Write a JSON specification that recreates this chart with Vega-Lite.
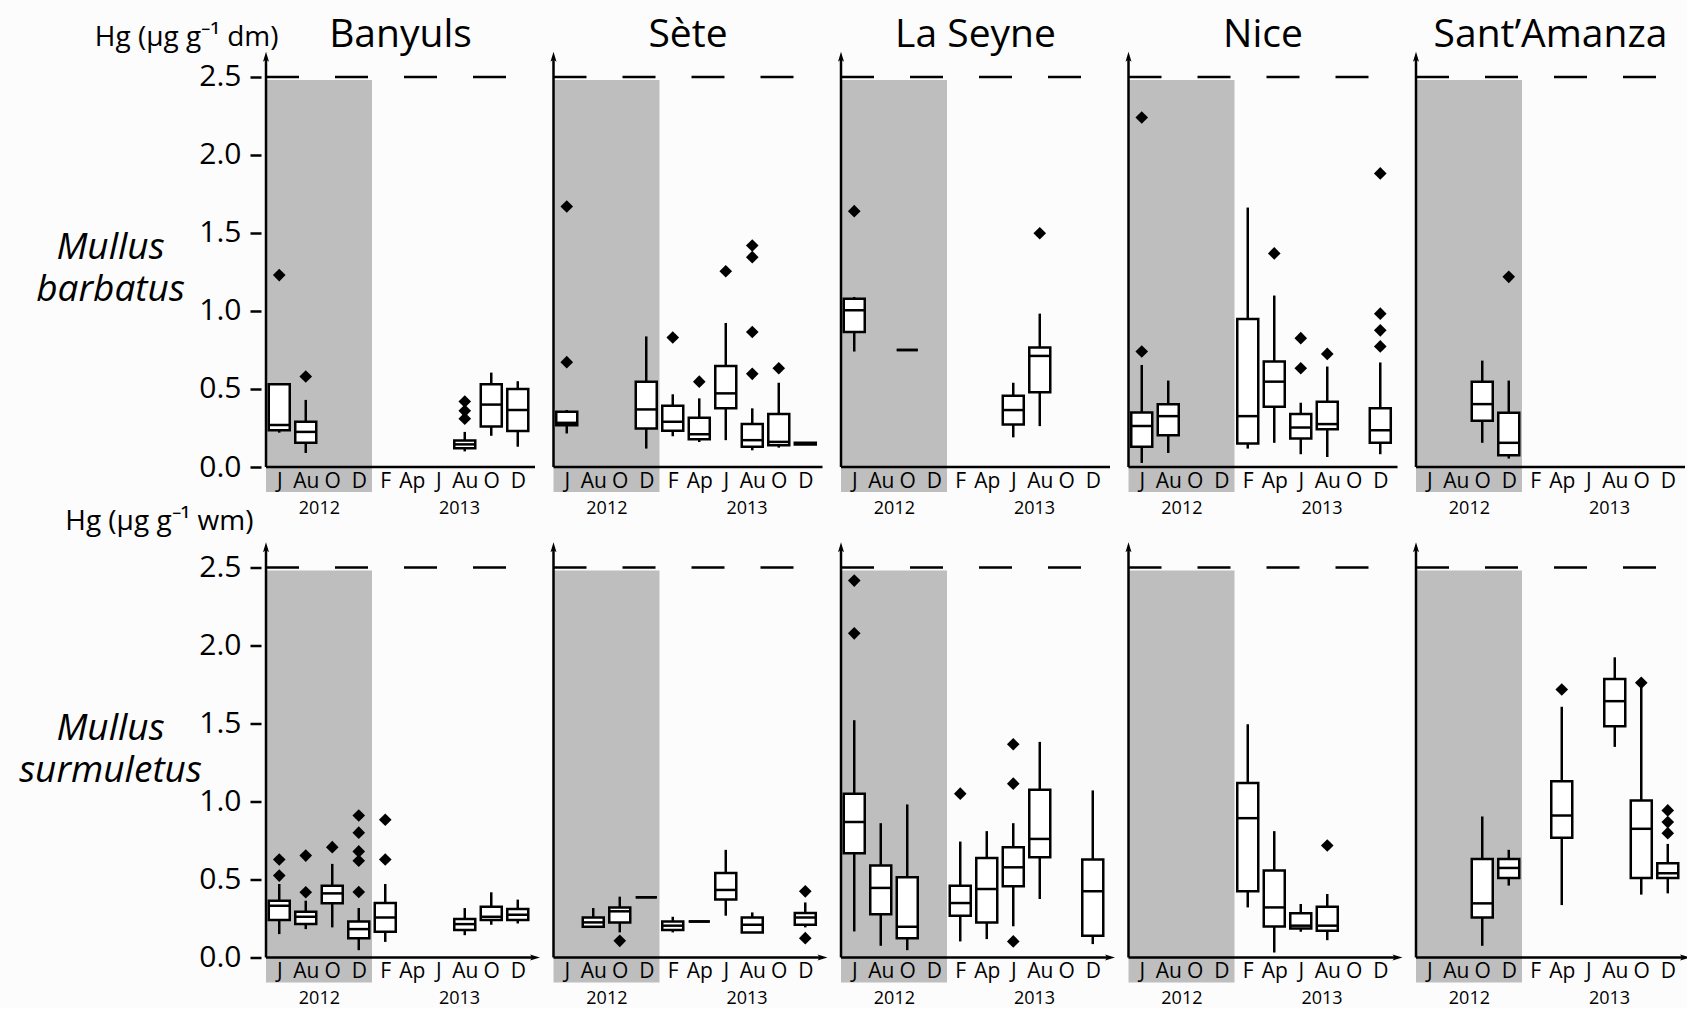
{
  "$schema": "https://vega.github.io/schema/vega-lite/v6.json",
  "background": "#fcfcfc",
  "padding": {"left": 18, "top": 16, "right": 0, "bottom": 0},
  "spacing": -9.5,
  "config": {"view": {"stroke": null}, "font": "Open Sans"},
  "datasets": {
    "d": [
      {"site": "Banyuls", "sp": "barbatus", "kind": "frame"},
      {"site": "Sète", "sp": "barbatus", "kind": "frame"},
      {"site": "La Seyne", "sp": "barbatus", "kind": "frame"},
      {"site": "Nice", "sp": "barbatus", "kind": "frame"},
      {"site": "Sant’Amanza", "sp": "barbatus", "kind": "frame"},
      {"site": "Banyuls", "sp": "surmuletus", "kind": "frame"},
      {"site": "Sète", "sp": "surmuletus", "kind": "frame"},
      {"site": "La Seyne", "sp": "surmuletus", "kind": "frame"},
      {"site": "Nice", "sp": "surmuletus", "kind": "frame"},
      {"site": "Sant’Amanza", "sp": "surmuletus", "kind": "frame"},

      {"site": "Banyuls", "sp": "barbatus", "kind": "box", "m": 0, "lo": 0.22, "q1": 0.236, "med": 0.27, "q3": 0.53, "hi": 0.53},
      {"site": "Banyuls", "sp": "barbatus", "kind": "box", "m": 1, "lo": 0.09, "q1": 0.155, "med": 0.225, "q3": 0.29, "hi": 0.43},
      {"site": "Banyuls", "sp": "barbatus", "kind": "box", "m": 7, "lo": 0.10, "q1": 0.12, "med": 0.145, "q3": 0.17, "hi": 0.225},
      {"site": "Banyuls", "sp": "barbatus", "kind": "box", "m": 8, "lo": 0.20, "q1": 0.26, "med": 0.40, "q3": 0.53, "hi": 0.605},
      {"site": "Banyuls", "sp": "barbatus", "kind": "box", "m": 9, "lo": 0.13, "q1": 0.23, "med": 0.365, "q3": 0.50, "hi": 0.55},
      {"site": "Banyuls", "sp": "barbatus", "kind": "out", "m": 0, "v": 1.23},
      {"site": "Banyuls", "sp": "barbatus", "kind": "out", "m": 1, "v": 0.58},
      {"site": "Banyuls", "sp": "barbatus", "kind": "out", "m": 7, "v": 0.42},
      {"site": "Banyuls", "sp": "barbatus", "kind": "out", "m": 7, "v": 0.36},
      {"site": "Banyuls", "sp": "barbatus", "kind": "out", "m": 7, "v": 0.31},

      {"site": "Sète", "sp": "barbatus", "kind": "box", "m": 0, "lo": 0.215, "q1": 0.268, "med": 0.283, "q3": 0.354, "hi": 0.365},
      {"site": "Sète", "sp": "barbatus", "kind": "box", "m": 3, "lo": 0.118, "q1": 0.247, "med": 0.369, "q3": 0.547, "hi": 0.837},
      {"site": "Sète", "sp": "barbatus", "kind": "box", "m": 4, "lo": 0.197, "q1": 0.232, "med": 0.29, "q3": 0.393, "hi": 0.466},
      {"site": "Sète", "sp": "barbatus", "kind": "box", "m": 5, "lo": 0.16, "q1": 0.178, "med": 0.21, "q3": 0.315, "hi": 0.44},
      {"site": "Sète", "sp": "barbatus", "kind": "box", "m": 6, "lo": 0.172, "q1": 0.376, "med": 0.472, "q3": 0.648, "hi": 0.923},
      {"site": "Sète", "sp": "barbatus", "kind": "box", "m": 7, "lo": 0.107, "q1": 0.129, "med": 0.172, "q3": 0.275, "hi": 0.376},
      {"site": "Sète", "sp": "barbatus", "kind": "box", "m": 8, "lo": 0.124, "q1": 0.139, "med": 0.161, "q3": 0.339, "hi": 0.54},
      {"site": "Sète", "sp": "barbatus", "kind": "box", "m": 9, "lo": 0.145, "q1": 0.145, "med": 0.15, "q3": 0.155, "hi": 0.155},
      {"site": "Sète", "sp": "barbatus", "kind": "out", "m": 0, "v": 1.67},
      {"site": "Sète", "sp": "barbatus", "kind": "out", "m": 0, "v": 0.672},
      {"site": "Sète", "sp": "barbatus", "kind": "out", "m": 4, "v": 0.83},
      {"site": "Sète", "sp": "barbatus", "kind": "out", "m": 5, "v": 0.547},
      {"site": "Sète", "sp": "barbatus", "kind": "out", "m": 6, "v": 1.255},
      {"site": "Sète", "sp": "barbatus", "kind": "out", "m": 7, "v": 1.42},
      {"site": "Sète", "sp": "barbatus", "kind": "out", "m": 7, "v": 1.345},
      {"site": "Sète", "sp": "barbatus", "kind": "out", "m": 7, "v": 0.865},
      {"site": "Sète", "sp": "barbatus", "kind": "out", "m": 7, "v": 0.597},
      {"site": "Sète", "sp": "barbatus", "kind": "out", "m": 8, "v": 0.633},

      {"site": "La Seyne", "sp": "barbatus", "kind": "box", "m": 0, "lo": 0.74, "q1": 0.865, "med": 1.004, "q3": 1.079, "hi": 1.09},
      {"site": "La Seyne", "sp": "barbatus", "kind": "box", "m": 2, "lo": 0.75, "q1": 0.75, "med": 0.75, "q3": 0.75, "hi": 0.75},
      {"site": "La Seyne", "sp": "barbatus", "kind": "box", "m": 6, "lo": 0.19, "q1": 0.273, "med": 0.365, "q3": 0.457, "hi": 0.54},
      {"site": "La Seyne", "sp": "barbatus", "kind": "box", "m": 7, "lo": 0.262, "q1": 0.479, "med": 0.712, "q3": 0.766, "hi": 0.983},
      {"site": "La Seyne", "sp": "barbatus", "kind": "out", "m": 0, "v": 1.64},
      {"site": "La Seyne", "sp": "barbatus", "kind": "out", "m": 7, "v": 1.498},

      {"site": "Nice", "sp": "barbatus", "kind": "box", "m": 0, "lo": 0.026, "q1": 0.129, "med": 0.262, "q3": 0.35, "hi": 0.654},
      {"site": "Nice", "sp": "barbatus", "kind": "box", "m": 1, "lo": 0.09, "q1": 0.204, "med": 0.326, "q3": 0.403, "hi": 0.554},
      {"site": "Nice", "sp": "barbatus", "kind": "box", "m": 4, "lo": 0.118, "q1": 0.15, "med": 0.326, "q3": 0.948, "hi": 1.663},
      {"site": "Nice", "sp": "barbatus", "kind": "box", "m": 5, "lo": 0.155, "q1": 0.386, "med": 0.547, "q3": 0.676, "hi": 1.099},
      {"site": "Nice", "sp": "barbatus", "kind": "box", "m": 6, "lo": 0.082, "q1": 0.182, "med": 0.253, "q3": 0.339, "hi": 0.412},
      {"site": "Nice", "sp": "barbatus", "kind": "box", "m": 7, "lo": 0.064, "q1": 0.242, "med": 0.275, "q3": 0.418, "hi": 0.644},
      {"site": "Nice", "sp": "barbatus", "kind": "box", "m": 9, "lo": 0.082, "q1": 0.155, "med": 0.236, "q3": 0.376, "hi": 0.67},
      {"site": "Nice", "sp": "barbatus", "kind": "out", "m": 0, "v": 2.24},
      {"site": "Nice", "sp": "barbatus", "kind": "out", "m": 0, "v": 0.74},
      {"site": "Nice", "sp": "barbatus", "kind": "out", "m": 5, "v": 1.369},
      {"site": "Nice", "sp": "barbatus", "kind": "out", "m": 6, "v": 0.826},
      {"site": "Nice", "sp": "barbatus", "kind": "out", "m": 6, "v": 0.633},
      {"site": "Nice", "sp": "barbatus", "kind": "out", "m": 7, "v": 0.725},
      {"site": "Nice", "sp": "barbatus", "kind": "out", "m": 9, "v": 1.882},
      {"site": "Nice", "sp": "barbatus", "kind": "out", "m": 9, "v": 0.983},
      {"site": "Nice", "sp": "barbatus", "kind": "out", "m": 9, "v": 0.876},
      {"site": "Nice", "sp": "barbatus", "kind": "out", "m": 9, "v": 0.773},

      {"site": "Sant’Amanza", "sp": "barbatus", "kind": "box", "m": 2, "lo": 0.155, "q1": 0.296, "med": 0.403, "q3": 0.547, "hi": 0.682},
      {"site": "Sant’Amanza", "sp": "barbatus", "kind": "box", "m": 3, "lo": 0.054, "q1": 0.075, "med": 0.155, "q3": 0.348, "hi": 0.554},
      {"site": "Sant’Amanza", "sp": "barbatus", "kind": "out", "m": 3, "v": 1.219},

      {"site": "Banyuls", "sp": "surmuletus", "kind": "box", "m": 0, "lo": 0.15, "q1": 0.24, "med": 0.332, "q3": 0.364, "hi": 0.471},
      {"site": "Banyuls", "sp": "surmuletus", "kind": "box", "m": 1, "lo": 0.182, "q1": 0.214, "med": 0.261, "q3": 0.293, "hi": 0.364},
      {"site": "Banyuls", "sp": "surmuletus", "kind": "box", "m": 2, "lo": 0.193, "q1": 0.347, "med": 0.411, "q3": 0.46, "hi": 0.6},
      {"site": "Banyuls", "sp": "surmuletus", "kind": "box", "m": 3, "lo": 0.047, "q1": 0.124, "med": 0.182, "q3": 0.231, "hi": 0.317},
      {"site": "Banyuls", "sp": "surmuletus", "kind": "box", "m": 4, "lo": 0.10, "q1": 0.165, "med": 0.257, "q3": 0.349, "hi": 0.471},
      {"site": "Banyuls", "sp": "surmuletus", "kind": "box", "m": 7, "lo": 0.143, "q1": 0.176, "med": 0.214, "q3": 0.246, "hi": 0.317},
      {"site": "Banyuls", "sp": "surmuletus", "kind": "box", "m": 8, "lo": 0.21, "q1": 0.24, "med": 0.261, "q3": 0.326, "hi": 0.418},
      {"site": "Banyuls", "sp": "surmuletus", "kind": "box", "m": 9, "lo": 0.218, "q1": 0.24, "med": 0.274, "q3": 0.311, "hi": 0.371},
      {"site": "Banyuls", "sp": "surmuletus", "kind": "out", "m": 0, "v": 0.628},
      {"site": "Banyuls", "sp": "surmuletus", "kind": "out", "m": 0, "v": 0.525},
      {"site": "Banyuls", "sp": "surmuletus", "kind": "out", "m": 1, "v": 0.653},
      {"site": "Banyuls", "sp": "surmuletus", "kind": "out", "m": 1, "v": 0.418},
      {"site": "Banyuls", "sp": "surmuletus", "kind": "out", "m": 2, "v": 0.707},
      {"site": "Banyuls", "sp": "surmuletus", "kind": "out", "m": 3, "v": 0.91},
      {"site": "Banyuls", "sp": "surmuletus", "kind": "out", "m": 3, "v": 0.80},
      {"site": "Banyuls", "sp": "surmuletus", "kind": "out", "m": 3, "v": 0.68},
      {"site": "Banyuls", "sp": "surmuletus", "kind": "out", "m": 3, "v": 0.62},
      {"site": "Banyuls", "sp": "surmuletus", "kind": "out", "m": 3, "v": 0.42},
      {"site": "Banyuls", "sp": "surmuletus", "kind": "out", "m": 4, "v": 0.883},
      {"site": "Banyuls", "sp": "surmuletus", "kind": "out", "m": 4, "v": 0.628},

      {"site": "Sète", "sp": "surmuletus", "kind": "box", "m": 1, "lo": 0.193, "q1": 0.197, "med": 0.225, "q3": 0.257, "hi": 0.317},
      {"site": "Sète", "sp": "surmuletus", "kind": "box", "m": 2, "lo": 0.161, "q1": 0.225, "med": 0.296, "q3": 0.321, "hi": 0.39},
      {"site": "Sète", "sp": "surmuletus", "kind": "box", "m": 3, "lo": 0.386, "q1": 0.386, "med": 0.386, "q3": 0.386, "hi": 0.386},
      {"site": "Sète", "sp": "surmuletus", "kind": "box", "m": 4, "lo": 0.161, "q1": 0.176, "med": 0.204, "q3": 0.231, "hi": 0.261},
      {"site": "Sète", "sp": "surmuletus", "kind": "box", "m": 5, "lo": 0.231, "q1": 0.231, "med": 0.231, "q3": 0.231, "hi": 0.231},
      {"site": "Sète", "sp": "surmuletus", "kind": "box", "m": 6, "lo": 0.268, "q1": 0.371, "med": 0.433, "q3": 0.542, "hi": 0.69},
      {"site": "Sète", "sp": "surmuletus", "kind": "box", "m": 7, "lo": 0.161, "q1": 0.161, "med": 0.21, "q3": 0.257, "hi": 0.289},
      {"site": "Sète", "sp": "surmuletus", "kind": "box", "m": 9, "lo": 0.193, "q1": 0.21, "med": 0.257, "q3": 0.285, "hi": 0.353},
      {"site": "Sète", "sp": "surmuletus", "kind": "out", "m": 2, "v": 0.107},
      {"site": "Sète", "sp": "surmuletus", "kind": "out", "m": 9, "v": 0.424},
      {"site": "Sète", "sp": "surmuletus", "kind": "out", "m": 9, "v": 0.124},

      {"site": "La Seyne", "sp": "surmuletus", "kind": "box", "m": 0, "lo": 0.167, "q1": 0.668, "med": 0.868, "q3": 1.05, "hi": 1.521},
      {"site": "La Seyne", "sp": "surmuletus", "kind": "box", "m": 1, "lo": 0.075, "q1": 0.278, "med": 0.446, "q3": 0.589, "hi": 0.861},
      {"site": "La Seyne", "sp": "surmuletus", "kind": "box", "m": 2, "lo": 0.047, "q1": 0.124, "med": 0.197, "q3": 0.514, "hi": 0.981},
      {"site": "La Seyne", "sp": "surmuletus", "kind": "box", "m": 4, "lo": 0.103, "q1": 0.268, "med": 0.349, "q3": 0.46, "hi": 0.743},
      {"site": "La Seyne", "sp": "surmuletus", "kind": "box", "m": 5, "lo": 0.118, "q1": 0.225, "med": 0.439, "q3": 0.638, "hi": 0.81},
      {"site": "La Seyne", "sp": "surmuletus", "kind": "box", "m": 6, "lo": 0.2, "q1": 0.456, "med": 0.578, "q3": 0.707, "hi": 0.861},
      {"site": "La Seyne", "sp": "surmuletus", "kind": "box", "m": 7, "lo": 0.375, "q1": 0.643, "med": 0.76, "q3": 1.075, "hi": 1.382},
      {"site": "La Seyne", "sp": "surmuletus", "kind": "box", "m": 9, "lo": 0.086, "q1": 0.139, "med": 0.424, "q3": 0.628, "hi": 1.071},
      {"site": "La Seyne", "sp": "surmuletus", "kind": "out", "m": 0, "v": 2.416},
      {"site": "La Seyne", "sp": "surmuletus", "kind": "out", "m": 0, "v": 2.078},
      {"site": "La Seyne", "sp": "surmuletus", "kind": "out", "m": 4, "v": 1.05},
      {"site": "La Seyne", "sp": "surmuletus", "kind": "out", "m": 6, "v": 1.367},
      {"site": "La Seyne", "sp": "surmuletus", "kind": "out", "m": 6, "v": 1.114},
      {"site": "La Seyne", "sp": "surmuletus", "kind": "out", "m": 6, "v": 0.103},

      {"site": "Nice", "sp": "surmuletus", "kind": "box", "m": 4, "lo": 0.321, "q1": 0.424, "med": 0.893, "q3": 1.118, "hi": 1.495},
      {"site": "Nice", "sp": "surmuletus", "kind": "box", "m": 5, "lo": 0.032, "q1": 0.199, "med": 0.321, "q3": 0.557, "hi": 0.81},
      {"site": "Nice", "sp": "surmuletus", "kind": "box", "m": 6, "lo": 0.165, "q1": 0.186, "med": 0.204, "q3": 0.283, "hi": 0.343},
      {"site": "Nice", "sp": "surmuletus", "kind": "box", "m": 7, "lo": 0.111, "q1": 0.171, "med": 0.204, "q3": 0.326, "hi": 0.407},
      {"site": "Nice", "sp": "surmuletus", "kind": "out", "m": 7, "v": 0.718},

      {"site": "Sant’Amanza", "sp": "surmuletus", "kind": "box", "m": 2, "lo": 0.075, "q1": 0.257, "med": 0.347, "q3": 0.632, "hi": 0.904},
      {"site": "Sant’Amanza", "sp": "surmuletus", "kind": "box", "m": 3, "lo": 0.461, "q1": 0.51, "med": 0.574, "q3": 0.632, "hi": 0.69},
      {"site": "Sant’Amanza", "sp": "surmuletus", "kind": "box", "m": 5, "lo": 0.336, "q1": 0.767, "med": 0.91, "q3": 1.129, "hi": 1.607},
      {"site": "Sant’Amanza", "sp": "surmuletus", "kind": "box", "m": 7, "lo": 1.35, "q1": 1.482, "med": 1.643, "q3": 1.785, "hi": 1.924},
      {"site": "Sant’Amanza", "sp": "surmuletus", "kind": "box", "m": 8, "lo": 0.403, "q1": 0.51, "med": 0.825, "q3": 1.007, "hi": 1.761},
      {"site": "Sant’Amanza", "sp": "surmuletus", "kind": "box", "m": 9, "lo": 0.411, "q1": 0.51, "med": 0.54, "q3": 0.604, "hi": 0.728},
      {"site": "Sant’Amanza", "sp": "surmuletus", "kind": "out", "m": 5, "v": 1.718},
      {"site": "Sant’Amanza", "sp": "surmuletus", "kind": "out", "m": 8, "v": 1.761},
      {"site": "Sant’Amanza", "sp": "surmuletus", "kind": "out", "m": 9, "v": 0.943},
      {"site": "Sant’Amanza", "sp": "surmuletus", "kind": "out", "m": 9, "v": 0.868},
      {"site": "Sant’Amanza", "sp": "surmuletus", "kind": "out", "m": 9, "v": 0.797}
    ]
  },
  "vconcat": [
    {
      "data": {"name": "d"},
      "transform": [{"filter": "datum.sp == 'barbatus'"}],
      "spacing": 8.5,
      "resolve": {"axis": {"x": "independent"}},
      "facet": {"column": {"field": "site", "type": "nominal", "sort": ["Banyuls", "Sète", "La Seyne", "Nice", "Sant’Amanza"],
        "header": {"title": null, "labelFont": "Open Sans", "labelFontSize": 39, "labelColor": "black", "labelPadding": -35, "labelBaseline": "alphabetic"}}},
      "spec": {
        "width": 279, "height": 415,
        "layer": [
          {"transform": [{"filter": "datum.kind == 'frame'"}],
           "mark": {"type": "rect", "color": "#bebebe"},
           "encoding": {
             "x": {"datum": -0.5, "type": "quantitative", "scale": {"domain": [-0.5, 9.65], "nice": false, "zero": false},
               "axis": {"values": [0, 1, 2, 3, 4, 5, 6, 7, 8, 9], "tickCount": 30,
                 "labelExpr": "['J','Au','O','D','F','Ap','J','Au','O','D'][datum.value]",
                 "domain": false, "ticks": false, "grid": false, "labelOverlap": false, "labelSeparation": 0, "labelFlush": false,
                 "labelFont": "Open Sans", "labelFontSize": 21, "labelColor": "black", "labelPadding": 3, "labelBaseline": "top",
                 "title": "2012\u2003\u2003\u2003\u2003\u2003\u20022013", "titleX": 128, "titleY": 41, "titleAlign": "center", "titleBaseline": "middle",
                 "titleFont": "Open Sans", "titleFontSize": 18, "titleFontWeight": "normal", "titleColor": "black", "zindex": 1}},
             "x2": {"datum": 3.5},
             "y": {"datum": -0.16, "type": "quantitative", "scale": {"domain": [0, 2.66], "nice": false, "zero": false},
               "axis": {"values": [0, 0.5, 1, 1.5, 2, 2.5, 1.41], "tickCount": 30,
                 "labelExpr": "datum.value == 1.41 ? ['Mullus', 'barbatus'] : format(datum.value, '.1f')",
                 "domain": false, "grid": false, "ticks": true, "tickSize": 11, "tickWidth": 2.5, "tickColor": "black",
                 "tickOpacity": {"condition": {"test": "datum.value == 1.41", "value": 0}, "value": 1},
                 "labelOverlap": false, "labelFlush": false, "labelLimit": 400, "labelFont": "Open Sans", "labelColor": "black",
                 "labelFontSize": {"condition": {"test": "datum.value == 1.41", "value": 37}, "value": 30},
                 "labelFontStyle": {"condition": {"test": "datum.value == 1.41", "value": "italic"}, "value": "normal"},
                 "labelAlign": {"condition": {"test": "datum.value == 1.41", "value": "center"}, "value": "right"},
                 "labelPadding": {"condition": {"test": "datum.value == 1.41", "value": 140}, "value": 9},
                 "labelLineHeight": 42, "labelBaseline": "middle",
                 "title": "Hg (µg g⁻¹ dm)", "titleAngle": 0, "titleAlign": "right", "titleBaseline": "alphabetic",
                 "titleX": 17, "titleY": -7, "titleFont": "Open Sans", "titleFontSize": 28, "titleFontWeight": "normal", "titleColor": "black", "zindex": 1}},
             "y2": {"datum": 2.48}
           }},
          {"transform": [{"filter": "datum.kind == 'frame'"}],
           "mark": {"type": "rule", "color": "black", "strokeWidth": 2.5, "strokeDash": [33, 36]},
           "encoding": {"x": {"datum": -0.5, "type": "quantitative"}, "x2": {"datum": 9.65}, "y": {"datum": 2.5, "type": "quantitative"}}},
          {"transform": [{"filter": "datum.kind == 'frame'"}],
           "mark": {"type": "rule", "color": "black", "strokeWidth": 2.5},
           "encoding": {"x": {"datum": -0.5, "type": "quantitative"}, "y": {"datum": 0, "type": "quantitative"}, "y2": {"datum": 2.62}}},
          {"transform": [{"filter": "datum.kind == 'frame'"}],
           "mark": {"type": "rule", "color": "black", "strokeWidth": 2.5},
           "encoding": {"x": {"datum": -0.5, "type": "quantitative"}, "x2": {"datum": 9.65}, "y": {"datum": 0, "type": "quantitative"}}},
          {"transform": [{"filter": "datum.kind == 'frame'"}],
           "mark": {"type": "point", "shape": "M0,-1L0.6,1L0,0.55L-0.6,1Z", "filled": true, "size": 100, "color": "black", "opacity": 1},
           "encoding": {"x": {"datum": -0.5, "type": "quantitative"}, "y": {"datum": 2.63, "type": "quantitative"}}},
          {"transform": [{"filter": "datum.kind == 'box'"}],
           "mark": {"type": "rule", "color": "black", "strokeWidth": 2.5},
           "encoding": {"x": {"field": "m", "type": "quantitative"}, "y": {"field": "lo", "type": "quantitative"}, "y2": {"field": "hi"}}},
          {"transform": [{"filter": "datum.kind == 'box'"}],
           "mark": {"type": "bar", "width": 21, "fill": "white", "stroke": "black", "strokeWidth": 2.5, "opacity": 1},
           "encoding": {"x": {"field": "m", "type": "quantitative"}, "y": {"field": "q1", "type": "quantitative"}, "y2": {"field": "q3"}}},
          {"transform": [{"filter": "datum.kind == 'box'"}],
           "mark": {"type": "tick", "orient": "horizontal", "size": 21, "thickness": 2.5, "color": "black", "opacity": 1},
           "encoding": {"x": {"field": "m", "type": "quantitative"}, "y": {"field": "med", "type": "quantitative"}}},
          {"transform": [{"filter": "datum.kind == 'out'"}],
           "mark": {"type": "point", "shape": "diamond", "filled": true, "size": 160, "color": "black", "opacity": 1},
           "encoding": {"x": {"field": "m", "type": "quantitative"}, "y": {"field": "v", "type": "quantitative"}}}
        ]
      }
    },
    {
      "data": {"name": "d"},
      "transform": [{"filter": "datum.sp == 'surmuletus'"}],
      "spacing": 8.5,
      "resolve": {"axis": {"x": "independent"}},
      "facet": {"column": {"field": "site", "type": "nominal", "sort": ["Banyuls", "Sète", "La Seyne", "Nice", "Sant’Amanza"],
        "header": {"title": null, "labels": false}}},
      "spec": {
        "width": 279, "height": 415,
        "layer": [
          {"transform": [{"filter": "datum.kind == 'frame'"}],
           "mark": {"type": "rect", "color": "#bebebe"},
           "encoding": {
             "x": {"datum": -0.5, "type": "quantitative", "scale": {"domain": [-0.5, 9.65], "nice": false, "zero": false},
               "axis": {"values": [0, 1, 2, 3, 4, 5, 6, 7, 8, 9], "tickCount": 30,
                 "labelExpr": "['J','Au','O','D','F','Ap','J','Au','O','D'][datum.value]",
                 "domain": false, "ticks": false, "grid": false, "labelOverlap": false, "labelSeparation": 0, "labelFlush": false,
                 "labelFont": "Open Sans", "labelFontSize": 21, "labelColor": "black", "labelPadding": 3, "labelBaseline": "top",
                 "title": "2012\u2003\u2003\u2003\u2003\u2003\u20022013", "titleX": 128, "titleY": 41, "titleAlign": "center", "titleBaseline": "middle",
                 "titleFont": "Open Sans", "titleFontSize": 18, "titleFontWeight": "normal", "titleColor": "black", "zindex": 1}},
             "x2": {"datum": 3.5},
             "y": {"datum": -0.16, "type": "quantitative", "scale": {"domain": [0, 2.66], "nice": false, "zero": false},
               "axis": {"values": [0, 0.5, 1, 1.5, 2, 2.5, 1.465], "tickCount": 30,
                 "labelExpr": "datum.value == 1.465 ? ['Mullus', 'surmuletus'] : format(datum.value, '.1f')",
                 "domain": false, "grid": false, "ticks": true, "tickSize": 11, "tickWidth": 2.5, "tickColor": "black",
                 "tickOpacity": {"condition": {"test": "datum.value == 1.465", "value": 0}, "value": 1},
                 "labelOverlap": false, "labelFlush": false, "labelLimit": 400, "labelFont": "Open Sans", "labelColor": "black",
                 "labelFontSize": {"condition": {"test": "datum.value == 1.465", "value": 37}, "value": 30},
                 "labelFontStyle": {"condition": {"test": "datum.value == 1.465", "value": "italic"}, "value": "normal"},
                 "labelAlign": {"condition": {"test": "datum.value == 1.465", "value": "center"}, "value": "right"},
                 "labelPadding": {"condition": {"test": "datum.value == 1.465", "value": 140}, "value": 9},
                 "labelLineHeight": 42, "labelBaseline": "middle",
                 "title": "Hg (µg g⁻¹ wm)", "titleAngle": 0, "titleAlign": "right", "titleBaseline": "alphabetic",
                 "titleX": -8, "titleY": -13, "titleFont": "Open Sans", "titleFontSize": 28, "titleFontWeight": "normal", "titleColor": "black", "zindex": 1}},
             "y2": {"datum": 2.48}
           }},
          {"transform": [{"filter": "datum.kind == 'frame'"}],
           "mark": {"type": "rule", "color": "black", "strokeWidth": 2.5, "strokeDash": [33, 36]},
           "encoding": {"x": {"datum": -0.5, "type": "quantitative"}, "x2": {"datum": 9.65}, "y": {"datum": 2.5, "type": "quantitative"}}},
          {"transform": [{"filter": "datum.kind == 'frame'"}],
           "mark": {"type": "rule", "color": "black", "strokeWidth": 2.5},
           "encoding": {"x": {"datum": -0.5, "type": "quantitative"}, "y": {"datum": 0, "type": "quantitative"}, "y2": {"datum": 2.62}}},
          {"transform": [{"filter": "datum.kind == 'frame'"}],
           "mark": {"type": "rule", "color": "black", "strokeWidth": 2.5},
           "encoding": {"x": {"datum": -0.5, "type": "quantitative"}, "x2": {"datum": 9.65}, "y": {"datum": 0, "type": "quantitative"}}},
          {"transform": [{"filter": "datum.kind == 'frame'"}],
           "mark": {"type": "point", "shape": "M0,-1L0.6,1L0,0.55L-0.6,1Z", "filled": true, "size": 100, "color": "black", "opacity": 1},
           "encoding": {"x": {"datum": -0.5, "type": "quantitative"}, "y": {"datum": 2.63, "type": "quantitative"}}},
          {"transform": [{"filter": "datum.kind == 'frame'"}],
           "mark": {"type": "point", "shape": "M1,0L-1,0.6L-0.55,0L-1,-0.6Z", "filled": true, "size": 100, "color": "black", "opacity": 1},
           "encoding": {"x": {"datum": 9.65, "type": "quantitative"}, "y": {"datum": 0, "type": "quantitative"}}},
          {"transform": [{"filter": "datum.kind == 'box'"}],
           "mark": {"type": "rule", "color": "black", "strokeWidth": 2.5},
           "encoding": {"x": {"field": "m", "type": "quantitative"}, "y": {"field": "lo", "type": "quantitative"}, "y2": {"field": "hi"}}},
          {"transform": [{"filter": "datum.kind == 'box'"}],
           "mark": {"type": "bar", "width": 21, "fill": "white", "stroke": "black", "strokeWidth": 2.5, "opacity": 1},
           "encoding": {"x": {"field": "m", "type": "quantitative"}, "y": {"field": "q1", "type": "quantitative"}, "y2": {"field": "q3"}}},
          {"transform": [{"filter": "datum.kind == 'box'"}],
           "mark": {"type": "tick", "orient": "horizontal", "size": 21, "thickness": 2.5, "color": "black", "opacity": 1},
           "encoding": {"x": {"field": "m", "type": "quantitative"}, "y": {"field": "med", "type": "quantitative"}}},
          {"transform": [{"filter": "datum.kind == 'out'"}],
           "mark": {"type": "point", "shape": "diamond", "filled": true, "size": 160, "color": "black", "opacity": 1},
           "encoding": {"x": {"field": "m", "type": "quantitative"}, "y": {"field": "v", "type": "quantitative"}}}
        ]
      }
    }
  ]
}
